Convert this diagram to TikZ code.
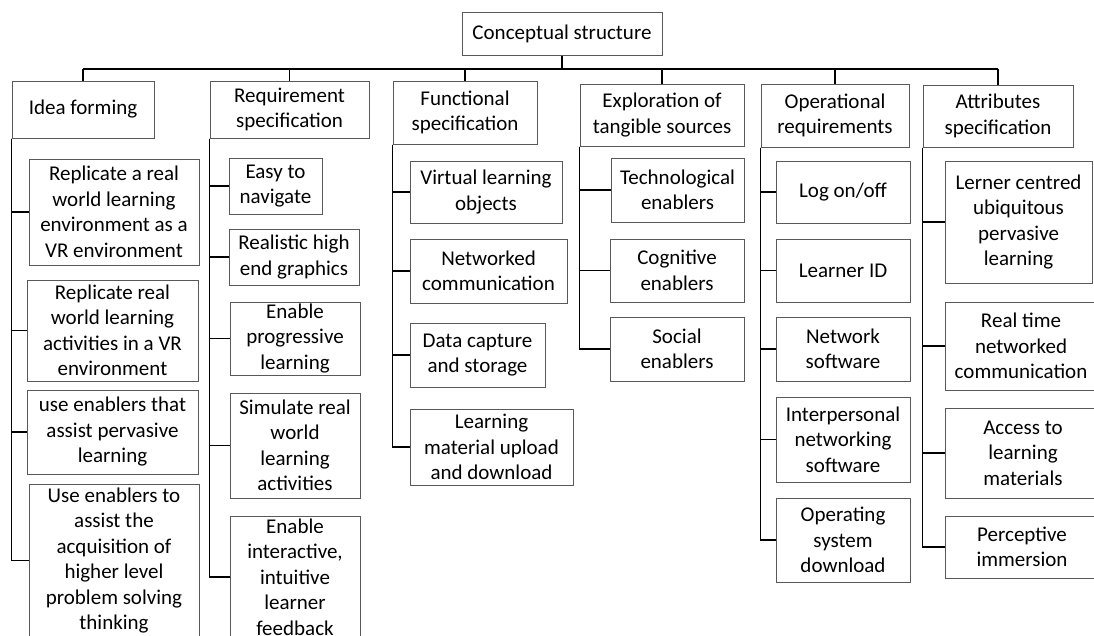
\documentclass[tikz,border=0pt]{standalone}
\usepackage{fontspec}
\setmainfont{Carlito}
\newcommand\boxfont{\fontsize{21}{25.5}\selectfont}
\tikzset{
  box/.style={draw=black!65, line width=1pt, align=center, inner sep=0pt,
              font=\boxfont, text=black},
  link/.style={draw=black, line width=1.6pt},
}
% place a box by centre, width and height (all in px-sized pt units)
\newcommand\cbox[6]{\node[box, minimum width=#4, minimum height=#5] (#1) at (#2,#3) {#6};}
\begin{document}
\begin{tikzpicture}[x=1pt,y=-1pt]
\useasboundingbox (0,0) rectangle (1094,635);
\clip (0,0) rectangle (1094,635);

% root and first level
\cbox{root}{562}{33.5}{200}{43}{Conceptual structure}
\cbox{idea}{83}{109.5}{142}{57}{Idea forming}
\cbox{req}{289.5}{109.5}{159}{57}{Requirement\\specification}
\cbox{func}{465}{112.5}{144}{63}{Functional\\specification}
\cbox{expl}{662}{115}{164}{62}{Exploration of\\tangible sources}
\cbox{oper}{835}{115.5}{148}{63}{Operational\\requirements}
\cbox{attr}{998}{116}{150}{62}{Attributes\\specification}

% idea forming
\cbox{i1}{114}{212}{170}{106}{Replicate a real\\world learning\\environment as a\\VR environment}
\cbox{i2}{112.5}{330.5}{171}{101}{Replicate real\\world learning\\activities in a VR\\environment}
\cbox{i3}{112.5}{432}{171}{84}{use enablers that\\assist pervasive\\learning}
\cbox{i4}{114}{560.5}{170}{153}{Use enablers to\\assist the\\acquisition of\\higher level\\problem solving\\thinking}

% requirement specification
\cbox{r1}{275.5}{186}{93}{56}{Easy to\\navigate}
\cbox{r2}{294}{257}{130}{56}{Realistic high\\end graphics}
\cbox{r3}{295}{338.5}{130}{73}{Enable\\progressive\\learning}
\cbox{r4}{295}{445.5}{130}{105}{Simulate real\\world\\learning\\activities}
\cbox{r5}{295}{577}{130}{122}{Enable\\interactive,\\intuitive\\learner\\feedback}

% functional specification
\cbox{f1}{486}{192}{152}{62}{Virtual learning\\objects}
\cbox{f2}{488.5}{271}{157}{64}{Networked\\communication}
\cbox{f3}{477.5}{355}{135}{64}{Data capture\\and storage}
\cbox{f4}{491.5}{447}{163}{76}{Learning\\material upload\\and download}

% exploration of tangible sources
\cbox{e1}{677.5}{190}{133}{64}{Technological\\enablers}
\cbox{e2}{677}{270.5}{134}{63}{Cognitive\\enablers}
\cbox{e3}{677}{349}{134}{64}{Social\\enablers}

% operational requirements
\cbox{o1}{843}{192}{134}{62}{Log on/off}
\cbox{o2}{843}{270.5}{134}{63}{Learner ID}
\cbox{o3}{843}{349}{134}{64}{Network\\software}
\cbox{o4}{843}{439.5}{134}{85}{Interpersonal\\networking\\software}
\cbox{o5}{843}{540}{134}{84}{Operating\\system\\download}

% attributes specification
\cbox{a1}{1018.5}{222}{147}{122}{Lerner centred\\ubiquitous\\pervasive\\learning}
\cbox{a2}{1021}{346}{152}{88}{Real time\\networked\\communication}
\cbox{a3}{1023}{453}{156}{90}{Access to\\learning\\materials}
\cbox{a4}{1022}{547}{154}{62}{Perceptive\\immersion}

% top bus
\coordinate (bus) at (0,69);
\draw[link] (root.south) -- (root.south |- bus);
\draw[link] (idea.north |- bus) -- (attr.north |- bus);
\foreach \n in {idea,req,func,expl,oper,attr}
  \draw[link] (\n.north |- bus) -- (\n.north);

% rails from each first-level box to its items
\foreach \p/\list in {idea/{i1,i2,i3,i4}, req/{r1,r2,r3,r4,r5},
                      func/{f1,f2,f3,f4}, expl/{e1,e2,e3},
                      oper/{o1,o2,o3,o4,o5}, attr/{a1,a2,a3,a4}}
  \foreach \c in \list
    \draw[link] (\p.south west) |- (\c.west);
\end{tikzpicture}
\end{document}
